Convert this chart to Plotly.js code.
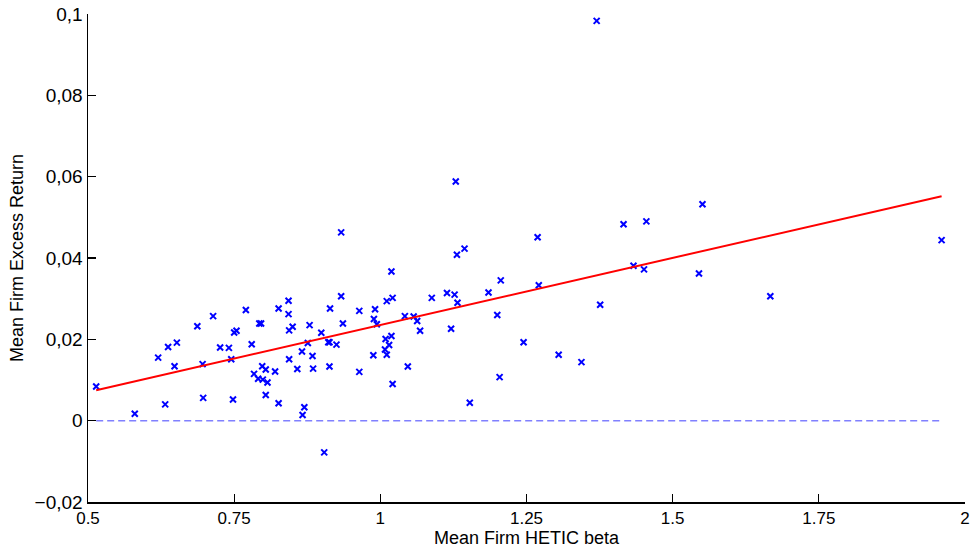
<!DOCTYPE html>
<html>
<head>
<meta charset="utf-8">
<script src="https://cdn.plot.ly/plotly-3.0.1.min.js"></script>
<style>html,body{margin:0;padding:0;background:#fff;}#chart{width:970px;height:550px;}</style>
</head>
<body>
<div id="chart"></div>
<script>
// Mean firm HETIC beta (x) and mean firm excess return (y)
const betas = [
  0.514, 0.580, 0.632, 0.620, 0.648, 0.637, 0.652, 0.687, 0.714, 0.697,
  0.696, 0.726, 0.741, 0.745, 0.748, 0.750, 0.754, 0.770, 0.780, 0.793,
  0.796, 0.784, 0.791, 0.798, 0.804, 0.799, 0.807, 0.804, 0.820, 0.826,
  0.826, 0.843, 0.843, 0.844, 0.850, 0.844, 0.866, 0.858, 0.876, 0.879,
  0.884, 0.885, 0.870, 0.867, 0.899, 0.904, 0.911, 0.913, 0.914, 0.913,
  0.925, 0.933, 0.936, 0.933, 0.964, 0.964, 0.989, 0.991, 0.994, 0.988,
  1.019, 1.011, 1.021, 1.009, 1.019, 1.015, 1.008, 1.011, 1.021, 1.042,
  1.047, 1.057, 1.063, 1.068, 1.088, 1.114, 1.127, 1.132, 1.121, 1.131,
  1.129, 1.144, 1.153, 1.185, 1.206, 1.200, 1.204, 1.245, 1.269, 1.271,
  1.305, 1.344, 1.376, 1.416, 1.433, 1.455, 1.451, 1.551, 1.545, 1.667,
  1.960, 1.370
];
const returns = [
  0.0084, 0.0017, 0.0040, 0.0155, 0.0134, 0.0181, 0.0192, 0.0232, 0.0257, 0.0056,
  0.0139, 0.0180, 0.0179, 0.0151, 0.0052, 0.0217, 0.0221, 0.0272, 0.0188, 0.0239,
  0.0239, 0.0115, 0.0103, 0.0134, 0.0126, 0.0101, 0.0094, 0.0063, 0.0121, 0.0276,
  0.0043, 0.0295, 0.0262, 0.0222, 0.0231, 0.0151, 0.0170, 0.0127, 0.0191, 0.0235,
  0.0159, 0.0128, 0.0033, 0.0014, 0.0216, -0.0078, 0.0193, 0.0193, 0.0276, 0.0133,
  0.0187, 0.0306, 0.0239, 0.0463, 0.0270, 0.0120, 0.0250, 0.0274, 0.0237, 0.0161,
  0.0367, 0.0294, 0.0302, 0.0201, 0.0208, 0.0186, 0.0175, 0.0162, 0.0090, 0.0257,
  0.0133, 0.0256, 0.0245, 0.0221, 0.0302, 0.0314, 0.0310, 0.0290, 0.0226, 0.0408,
  0.0588, 0.0423, 0.0044, 0.0315, 0.0345, 0.0260, 0.0107, 0.0193, 0.0451, 0.0333,
  0.0162, 0.0144, 0.0285, 0.0483, 0.0381, 0.0490, 0.0372, 0.0532, 0.0362, 0.0306,
  0.0444, 0.0983
];
// fitted line endpoints
const fitX = [0.514, 1.960];
const fitY = [0.0075, 0.0552];
// zero reference line
const zeroX = [0.514, 1.960];
const zeroY = [0, 0];

const xTickVals = [0.5, 0.75, 1, 1.25, 1.5, 1.75, 2];
const xTickText = ['0.5', '0.75', '1', '1.25', '1.5', '1.75', '2'];
const yTickVals = [-0.02, 0, 0.02, 0.04, 0.06, 0.08, 0.1];
const yTickText = ['\u22120,02', '0', '0,02', '0,04', '0,06', '0,08', '0,1'];

const traces = [
  {x: zeroX, y: zeroY, mode: 'lines', type: 'scatter',
   line: {color: '#8080ff', width: 1.5, dash: '7px,4px'}, hoverinfo: 'skip'},
  {x: betas, y: returns, mode: 'markers', type: 'scatter',
   marker: {symbol: 'x-thin-open', size: 6, color: '#0000ff', line: {color: '#0000ff', width: 2}}},
  {x: fitX, y: fitY, mode: 'lines', type: 'scatter',
   line: {color: '#ff0000', width: 2}}
];

const fontFam = 'Liberation Sans, Arial, sans-serif';
const layout = {
  width: 970, height: 550,
  margin: {l: 88, r: 5, t: 14, b: 48},
  paper_bgcolor: '#ffffff', plot_bgcolor: '#ffffff',
  showlegend: false,
  font: {family: fontFam, color: '#000000', size: 17},
  xaxis: {
    range: [0.5, 2], tickvals: xTickVals, ticktext: xTickText,
    ticks: 'inside', ticklen: 8, tickwidth: 1.2, tickcolor: '#000',
    showline: true, linecolor: '#000', linewidth: 1.5, mirror: false,
    showgrid: false, zeroline: false,
    tickfont: {family: fontFam, size: 17, color: '#000'},
    title: {text: 'Mean Firm HETIC beta', font: {family: fontFam, size: 18, color: '#000'}, standoff: 2}
  },
  yaxis: {
    range: [-0.02, 0.1], tickvals: yTickVals, ticktext: yTickText,
    ticks: 'inside', ticklen: 8, tickwidth: 1.2, tickcolor: '#000',
    showline: true, linecolor: '#000', linewidth: 1.5, mirror: false,
    showgrid: false, zeroline: false,
    tickfont: {family: fontFam, size: 19, color: '#000'},
    title: {text: 'Mean Firm Excess Return', font: {family: fontFam, size: 18, color: '#000'}, standoff: 6}
  }
};

Plotly.newPlot('chart', traces, layout, {staticPlot: true, displayModeBar: false});
</script>
</body>
</html>
